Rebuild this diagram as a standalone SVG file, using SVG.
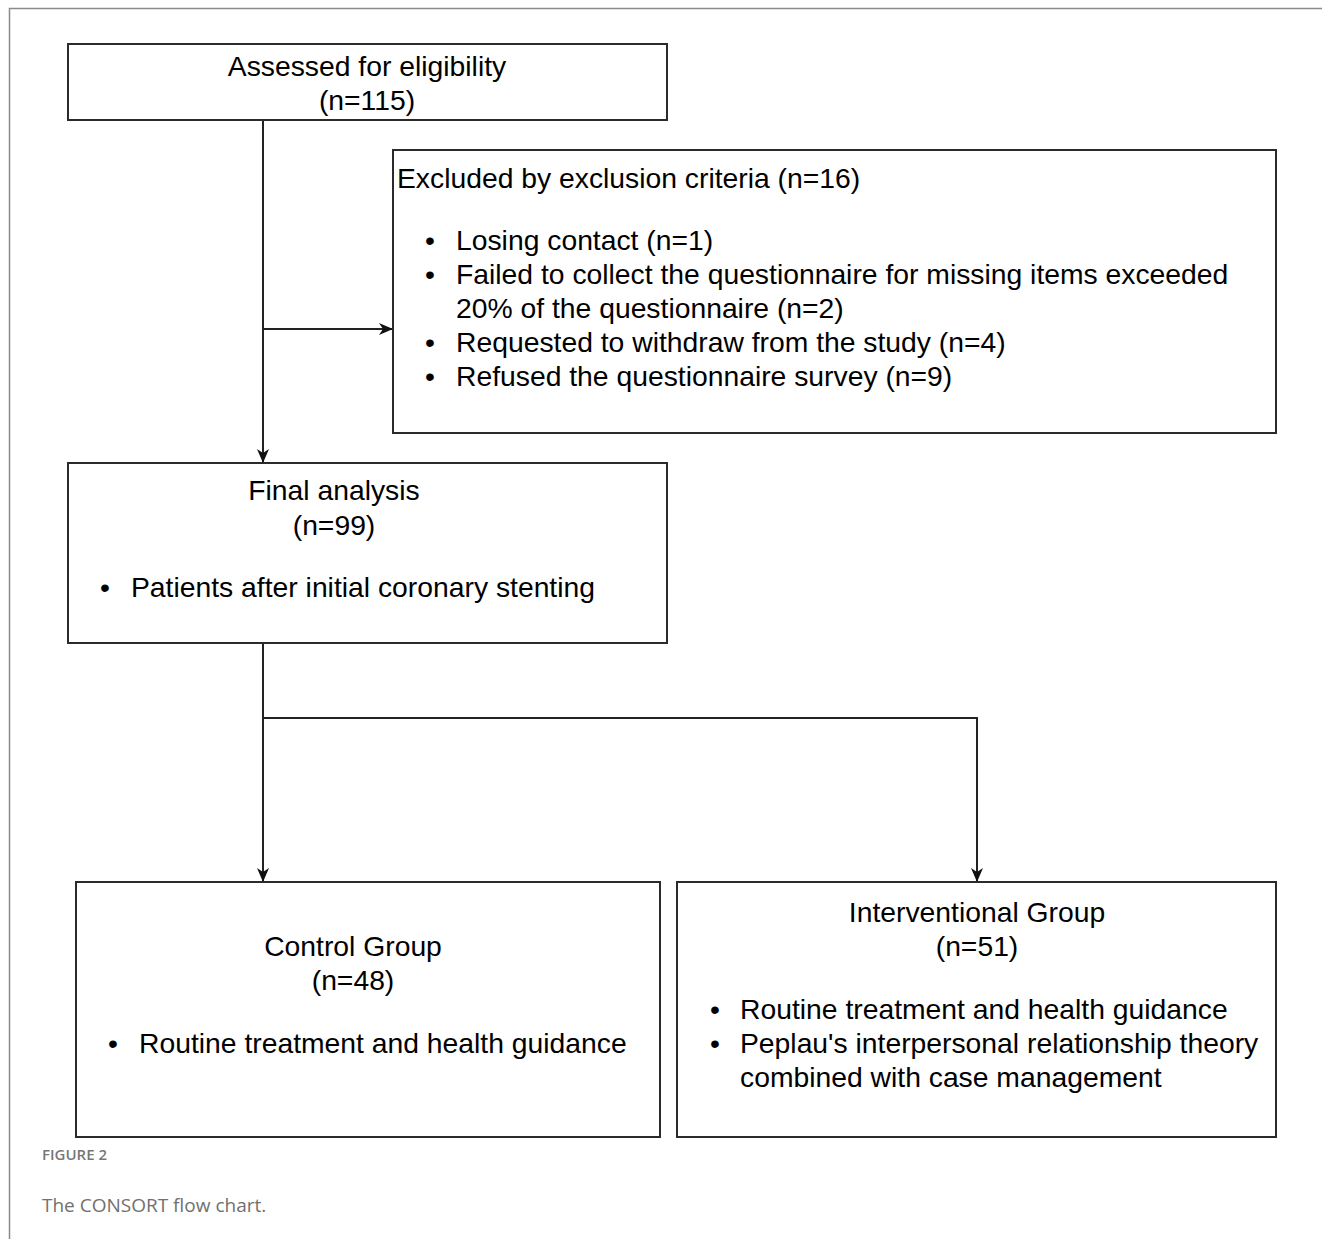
<svg xmlns="http://www.w3.org/2000/svg" width="1322" height="1239" viewBox="0 0 1322 1239">
<style>
.box{fill:#fff;stroke:#2b2b2b;stroke-width:2}
.t{font-family:"Liberation Sans",Arial,sans-serif;font-size:28.3px;fill:#000}
.c{text-anchor:middle}
.ln{fill:none;stroke:#222;stroke-width:2}
.cap1{font-family:"Open Sans",sans-serif;font-size:15px;font-weight:600;fill:#777}
.cap2{font-family:"Open Sans",sans-serif;font-size:19px;fill:#707070}
</style>
<defs>
<marker id="arr" viewBox="0 0 14 12" refX="13" refY="6" markerWidth="14" markerHeight="12" markerUnits="userSpaceOnUse" orient="auto">
<path d="M0,0 L14,6 L0,12 L4,6 Z" fill="#111"/>
</marker>
</defs>
<rect width="1322" height="1239" fill="#fff"/>
<path d="M1322,8.5 H9.5 V1239" fill="none" stroke="#8a8a8a" stroke-width="1.5"/>
<g id="connectors">
<line class="ln" x1="263" y1="120" x2="263" y2="462" marker-end="url(#arr)"/>
<line class="ln" x1="263" y1="329" x2="392" y2="329" marker-end="url(#arr)"/>
<line class="ln" x1="263" y1="643" x2="263" y2="881" marker-end="url(#arr)"/>
<polyline class="ln" points="263,718 977,718 977,881" marker-end="url(#arr)"/>
</g>
<g id="assessed">
<rect class="box" x="68" y="44" width="599" height="76"/>
<text class="t c" x="367" y="76">Assessed for eligibility</text>
<text class="t c" x="367" y="110">(n=115)</text>
</g>
<g id="excluded">
<rect class="box" x="393" y="150" width="883" height="283"/>
<text class="t" x="397" y="188">Excluded by exclusion criteria (n=16)</text>
<text class="t" x="425" y="250">•</text><text class="t" x="456" y="250">Losing contact (n=1)</text>
<text class="t" x="425" y="284">•</text><text class="t" x="456" y="284">Failed to collect the questionnaire for missing items exceeded</text>
<text class="t" x="456" y="318">20% of the questionnaire (n=2)</text>
<text class="t" x="425" y="352">•</text><text class="t" x="456" y="352">Requested to withdraw from the study (n=4)</text>
<text class="t" x="425" y="386">•</text><text class="t" x="456" y="386">Refused the questionnaire survey (n=9)</text>
</g>
<g id="final">
<rect class="box" x="68" y="463" width="599" height="180"/>
<text class="t c" x="334" y="500">Final analysis</text>
<text class="t c" x="334" y="535">(n=99)</text>
<text class="t" x="100" y="597">•</text><text class="t" x="131" y="597">Patients after initial coronary stenting</text>
</g>
<g id="control">
<rect class="box" x="76" y="882" width="584" height="255"/>
<text class="t c" x="353" y="956">Control Group</text>
<text class="t c" x="353" y="990">(n=48)</text>
<text class="t" x="108" y="1053">•</text><text class="t" x="139" y="1053">Routine treatment and health guidance</text>
</g>
<g id="interventional">
<rect class="box" x="677" y="882" width="599" height="255"/>
<text class="t c" x="977" y="922">Interventional Group</text>
<text class="t c" x="977" y="956">(n=51)</text>
<text class="t" x="710" y="1019">•</text><text class="t" x="740" y="1019">Routine treatment and health guidance</text>
<text class="t" x="710" y="1053">•</text><text class="t" x="740" y="1053">Peplau's interpersonal relationship theory</text>
<text class="t" x="740" y="1087">combined with case management</text>
</g>
<text class="cap1" x="42" y="1160">FIGURE 2</text>
<text class="cap2" x="42" y="1212">The CONSORT flow chart.</text>
</svg>
